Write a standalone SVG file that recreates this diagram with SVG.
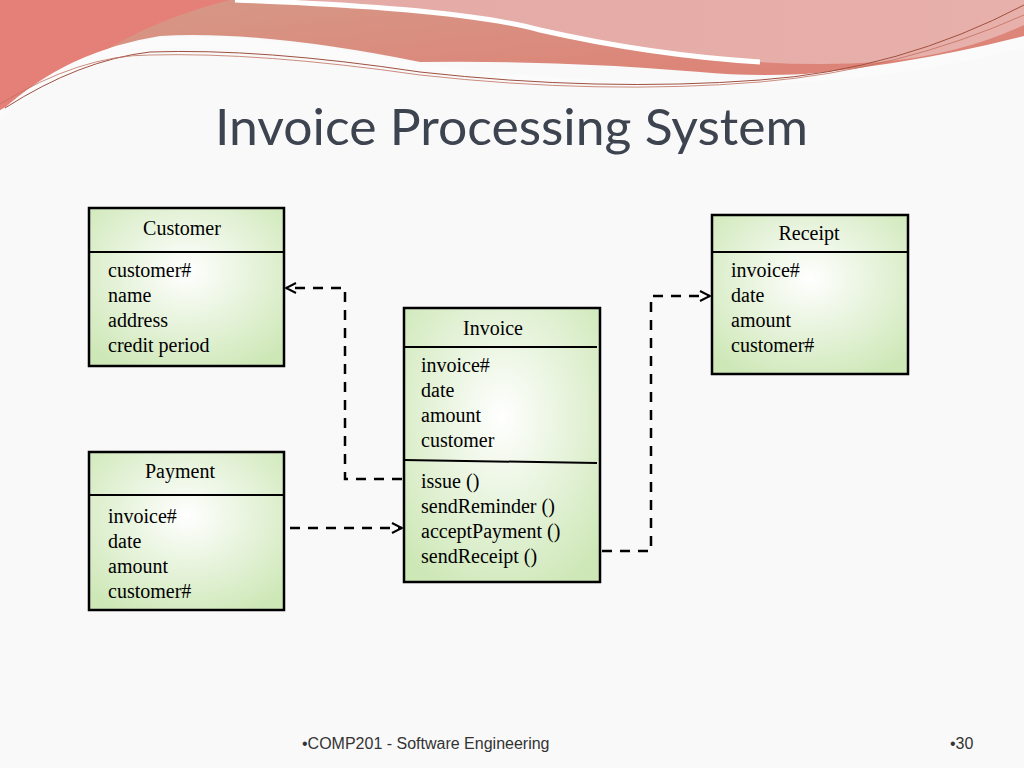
<svg xmlns="http://www.w3.org/2000/svg" width="1024" height="768" viewBox="0 0 1024 768">
<defs>
<radialGradient id="g" cx="0.5" cy="0.4" r="0.7">
<stop offset="0" stop-color="#ffffff"/>
<stop offset="1" stop-color="#cde7b6"/>
</radialGradient>
<linearGradient id="sw1" x1="0" y1="0" x2="1" y2="1">
<stop offset="0" stop-color="#d59a88"/>
<stop offset="1" stop-color="#e07a70"/>
</linearGradient>
<linearGradient id="sw2" x1="0" y1="0" x2="1" y2="0">
<stop offset="0" stop-color="#e3aaa6"/>
<stop offset="1" stop-color="#e8b0aa"/>
</linearGradient>
<marker id="ar" viewBox="0 0 12 12" refX="11" refY="6" markerWidth="12" markerHeight="12" markerUnits="userSpaceOnUse" orient="auto">
<path d="M1,1 L11,6 L1,11" fill="none" stroke="#000" stroke-width="2"/>
</marker>
<style>
.box{fill:url(#g);stroke:#000;stroke-width:2.5}
.ln{stroke:#000;stroke-width:2}
.t{font-family:"Liberation Serif",serif;font-size:20px;fill:#000}
.c{stroke:#000;stroke-width:2.5;fill:none;stroke-dasharray:10,8}
</style>
</defs>
<rect width="1024" height="768" fill="#f9f9f9"/>
<path d="M0,0 H1024 V40 Q930,65 840,72 Q760,78 700,72 Q560,60 420,62 Q260,30 160,36 Q70,50 0,110 Z" fill="url(#sw1)"/>
<path d="M0,0 H230 Q150,20 90,60 Q40,90 0,110 Z" fill="#e58078"/>
<path d="M235,0 H1024 V25 Q960,55 880,62 Q820,66 760,62 Q650,55 540,30 Q460,8 235,0 Z" fill="url(#sw2)"/>
<path d="M235,0 Q460,8 540,30 Q650,55 760,62" fill="none" stroke="#ffffff" stroke-width="5"/>
<path d="M0,112 Q70,48 160,38 Q260,32 420,64 Q600,88 760,78 Q900,68 1024,36 L1024,48 Q900,80 760,84 Q600,92 420,72 Q250,45 160,48 Q70,62 0,118 Z" fill="#fbfbfb"/>
<path d="M5,108 Q80,60 150,52 Q260,48 420,72 Q600,92 760,80 Q900,70 1024,5" fill="none" stroke="#a05040" stroke-width="1"/>
<path d="M0,104 Q80,55 150,55 Q260,52 420,75 Q600,95 760,82 Q900,70 1024,15" fill="none" stroke="#c07060" stroke-width="0.8"/>
<text x="215" y="145" textLength="593" lengthAdjust="spacingAndGlyphs" font-family="Lato,'Open Sans',sans-serif" font-size="50" fill="#3d4450">Invoice Processing System</text>

<g id="customer">
<rect class="box" x="89" y="208" width="195" height="158"/>
<line class="ln" x1="89" y1="252" x2="284" y2="252"/>
<text class="t" x="182" y="235" text-anchor="middle">Customer</text>
<text class="t" x="108" y="277">customer#</text>
<text class="t" x="108" y="302">name</text>
<text class="t" x="108" y="327">address</text>
<text class="t" x="108" y="352">credit period</text>
</g>
<g id="payment">
<rect class="box" x="89" y="452" width="195" height="158"/>
<line class="ln" x1="89" y1="495" x2="284" y2="495"/>
<text class="t" x="180" y="478" text-anchor="middle">Payment</text>
<text class="t" x="108" y="523">invoice#</text>
<text class="t" x="108" y="548">date</text>
<text class="t" x="108" y="573">amount</text>
<text class="t" x="108" y="598">customer#</text>
</g>
<g id="invoice">
<rect class="box" x="404" y="308" width="196" height="274"/>
<line class="ln" x1="404" y1="347" x2="597" y2="347"/>
<line class="ln" x1="404" y1="460" x2="597" y2="463"/>
<text class="t" x="493" y="335" text-anchor="middle">Invoice</text>
<text class="t" x="421" y="372">invoice#</text>
<text class="t" x="421" y="397">date</text>
<text class="t" x="421" y="422">amount</text>
<text class="t" x="421" y="447">customer</text>
<text class="t" x="421" y="488">issue ()</text>
<text class="t" x="421" y="513">sendReminder ()</text>
<text class="t" x="421" y="538">acceptPayment ()</text>
<text class="t" x="421" y="563">sendReceipt ()</text>
</g>
<g id="receipt">
<rect class="box" x="712" y="215" width="196" height="159"/>
<line class="ln" x1="712" y1="252" x2="908" y2="252"/>
<text class="t" x="809" y="240" text-anchor="middle">Receipt</text>
<text class="t" x="731" y="277">invoice#</text>
<text class="t" x="731" y="302">date</text>
<text class="t" x="731" y="327">amount</text>
<text class="t" x="731" y="352">customer#</text>
</g>
<g id="connectors">
<path class="c" d="M402,479 H345 V288 H286" marker-end="url(#ar)"/>
<path class="c" d="M290,528 H402" marker-end="url(#ar)"/>
<path class="c" d="M602,551 H651 V296 H710" marker-end="url(#ar)"/>
</g>
<text x="302" y="749" font-family="'Liberation Sans',sans-serif" font-size="16" fill="#333">•COMP201 - Software Engineering</text>
<text x="950" y="749" font-family="'Liberation Sans',sans-serif" font-size="16" fill="#333">•30</text>
</svg>
